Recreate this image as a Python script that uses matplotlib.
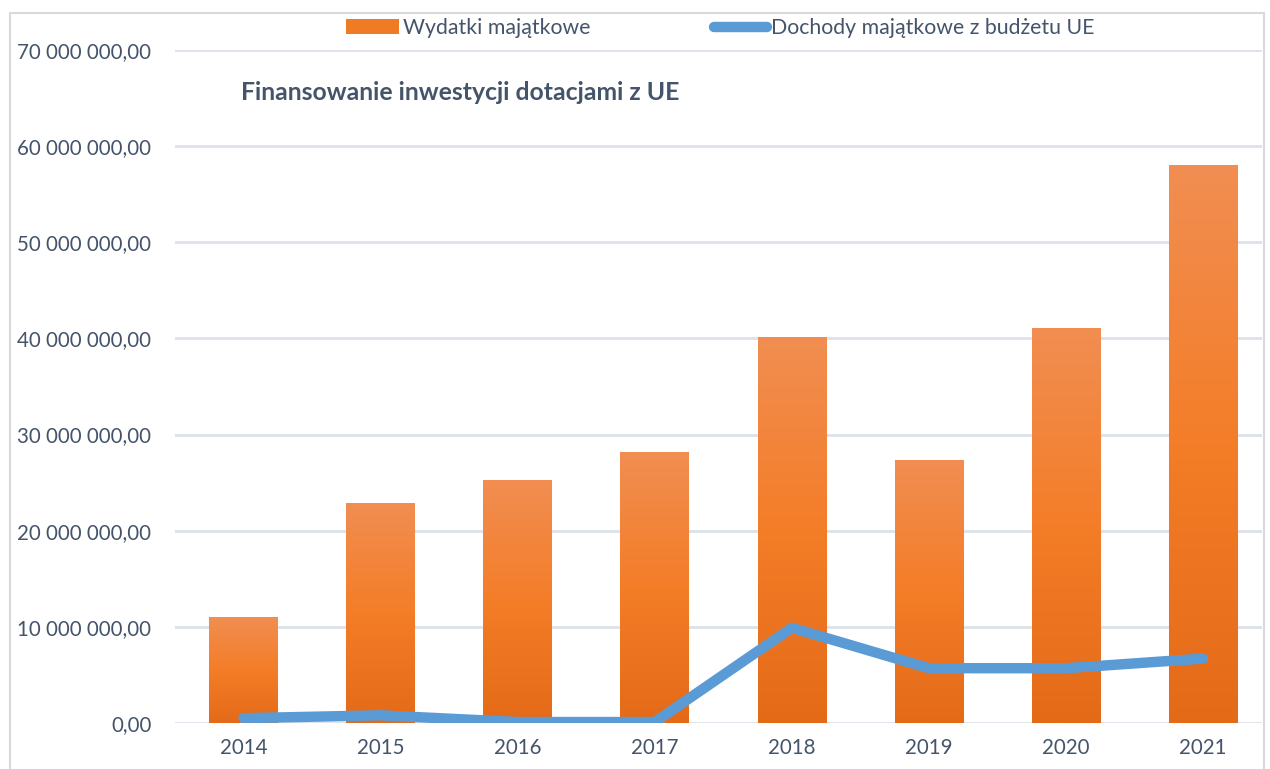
import numpy as np
import matplotlib
matplotlib.use("Agg")
import matplotlib.pyplot as plt
from matplotlib.patches import Rectangle
from matplotlib.lines import Line2D
from matplotlib.colors import LinearSegmentedColormap
from matplotlib.ticker import FuncFormatter

# data
years = ['2014', '2015', '2016', '2017', '2018', '2019', '2020', '2021']
wydatki = [11.0e6, 22.9e6, 25.3e6, 28.2e6, 40.2e6, 27.4e6, 41.1e6, 58.0e6]
dochody_ue = [0.5e6, 0.8e6, 0.1e6, 0.1e6, 9.9e6, 5.7e6, 5.7e6, 6.7e6]

text_col = '#44546A'
grid_col = '#DDE2EA'
line_col = '#5B9BD5'

plt.rcParams['font.family'] = ['Lato', 'DejaVu Sans']

fig = plt.figure(figsize=(12.7, 7.69), dpi=100)
ax = fig.add_axes([175 / 1270, 1 - 723 / 769, (1262 - 175) / 1270, (723 - 50) / 769])

x = np.arange(len(years))
bars = ax.bar(x, wydatki, width=0.5, color='#F07B25', zorder=2)

# gradient fill on each bar
cmap = LinearSegmentedColormap.from_list('og', ['#E46A17', '#F47D28', '#F18E52'])
grad = np.linspace(0, 1, 256).reshape(-1, 1)
for b in bars:
    x0, y0, w, h = b.get_x(), b.get_y(), b.get_width(), b.get_height()
    im = ax.imshow(grad, cmap=cmap, aspect='auto', origin='lower',
                   extent=[x0, x0 + w, y0, y0 + h], zorder=2.1)
    im.set_clip_path(b)

ax.plot(x, dochody_ue, color=line_col, lw=7.5, solid_capstyle='round',
        solid_joinstyle='round', zorder=3)

ax.set_xlim(-0.5, 7.43)
ax.set_ylim(0, 70e6)
ax.set_yticks(np.arange(0, 70e6 + 1, 10e6))
ax.yaxis.set_major_formatter(FuncFormatter(
    lambda v, p: '{:,.2f}'.format(v).replace(',', ' ').replace('.', ',')))
ax.set_xticks(x)
ax.set_xticklabels(years)
ax.tick_params(axis='both', length=0, labelsize=14.8, colors=text_col)
ax.tick_params(axis='y', pad=17)
ax.tick_params(axis='x', pad=11)
ax.grid(axis='y', color=grid_col, lw=2, zorder=0)
ax.set_axisbelow(True)
for s in ax.spines.values():
    s.set_visible(False)

ax.text(241 / 1270, 1 - 92 / 769, 'Finansowanie inwestycji dotacjami z UE',
        transform=fig.transFigure, fontsize=17.8, fontweight='bold',
        color=text_col, va='center', ha='left')

# legend
handles = [Rectangle((0, 0), 1, 1, facecolor='#F07B25'),
           Line2D([0], [0], color=line_col, lw=7.5, solid_capstyle='round')]
fig.legend(handles, ['Wydatki majątkowe', 'Dochody majątkowe z budżetu UE'],
           loc='center', bbox_to_anchor=(720 / 1270, 1 - 28 / 769), ncol=2,
           frameon=False, fontsize=15.3, labelcolor=text_col,
           handlelength=2.5, handletextpad=0.2, columnspacing=5.8)

# outer frame
fig.patches.append(Rectangle((10 / 1270, -0.01), (1264 - 10) / 1270, 1 - 13 / 769 + 0.01,
                             transform=fig.transFigure, fill=False,
                             edgecolor='#D9D9D9', lw=1.5))

fig.savefig('out.png', dpi=100)
